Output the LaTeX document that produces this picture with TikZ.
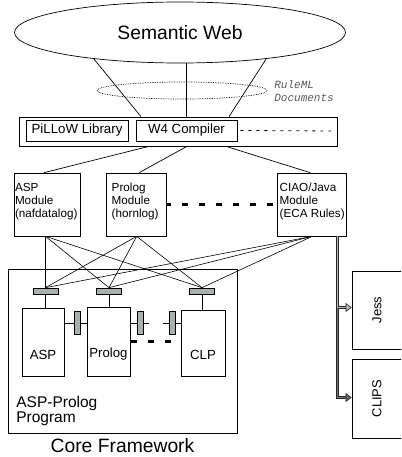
\documentclass[tikz,border=0pt]{standalone}
\usepackage{fontspec}
\setmainfont{Liberation Sans}
\setmonofont{Liberation Mono}
\usetikzlibrary{shapes.geometric,arrows.meta}
\definecolor{plugfill}{HTML}{A8B1AD}
\begin{document}
\begin{tikzpicture}[x=1pt,y=-1pt,line width=0.7pt,
  box/.style={draw,inner sep=0pt},
  plug/.style={draw,fill=plugfill,inner sep=0pt,minimum width=25pt,minimum height=6pt},
  vplug/.style={draw,fill=plugfill,inner sep=0pt,minimum width=6pt,minimum height=23pt},
  modtext/.style={anchor=north west,align=left,inner sep=0pt,font=\fontsize{11.7}{12.9}\selectfont},
  thickdash/.style={line width=3pt,dash pattern=on 6pt off 11pt},
  shaft/.style={draw=black!85,line width=0.6pt,double=#1,double distance=1.7pt},
  tip/.style={draw=black!85,line width=0.6pt,-{Triangle[width=9pt,length=6pt,fill=#1]}}]
\useasboundingbox (0,0) rectangle (401,457);
\clip (0,0) rectangle (401,457);
% semantic web and documents
\node[ellipse,draw,minimum width=331pt,minimum height=61pt,inner sep=0pt,font=\fontsize{19.3}{22}\selectfont] (web) at (180,32.5) {Semantic Web};
\node[ellipse,draw,densely dotted,minimum width=170pt,minimum height=17pt,inner sep=0pt] (docs) at (182,90.5) {};
\node[anchor=north west,align=left,inner sep=0pt,text=black!65,font=\fontsize{11}{13}\ttfamily\itshape] (docstext) at (274,80) {RuleML\\Documents};
% top layer
\node[box,minimum width=318pt,minimum height=29pt] (bar) at (178,131.5) {};
\node[box,minimum width=102pt,minimum height=21pt,font=\fontsize{13.3}{15}\selectfont] (pillow) at (77,130.5) {PiLLoW Library};
\node[box,minimum width=101pt,minimum height=21pt,font=\fontsize{13.3}{15}\selectfont] (w4) at (186.5,130.5) {W4 Compiler};
\coordinate (dotend) at (334,131);
\draw[line width=0.8pt,dash pattern=on 3pt off 5pt] ([xshift=3pt]w4.east) -- (dotend);
\draw (web.197) -- ([xshift=-37pt]bar.north);
\draw ([xshift=6pt]web.south) -- ([xshift=8pt]bar.north);
\draw (web.343) -- ([xshift=51pt]bar.north);
% modules
\node[box,minimum width=66pt,minimum height=63pt] (aspmod) at (47,204.5) {};
\node[box,minimum width=60pt,minimum height=63pt] (prolmod) at (136.7,204.5) {};
\node[box,minimum width=69pt,minimum height=63pt] (ciaomod) at (312.2,204.5) {};
\node[modtext] (asptext) at ([xshift=1pt,yshift=-10.5pt]aspmod.north west) {ASP\\Module\\(nafdatalog)};
\node[modtext] (proltext) at ([xshift=5pt,yshift=-10.5pt]prolmod.north west) {Prolog\\Module\\(hornlog)};
\node[modtext] (ciaotext) at ([xshift=2pt,yshift=-10.5pt]ciaomod.north west) {CIAO/Java\\Module\\(ECA Rules)};
\draw[thickdash,dash phase=2pt] (prolmod.east) -- (ciaomod.west);
\draw ([xshift=-29pt]bar.south) -- ([xshift=-3pt]aspmod.north);
\draw ([xshift=9pt]bar.south) -- ([xshift=2.5pt]prolmod.north);
\draw ([xshift=48pt]bar.south) -- ([xshift=-2pt]ciaomod.north);
% core framework
\node[box,minimum width=229pt,minimum height=164pt] (core) at (122.5,351) {};
\node[anchor=base,inner sep=0pt,font=\fontsize{19.3}{22}\selectfont] (coretext) at (122.5,452.5) {Core Framework};
\node[anchor=north west,align=left,inner sep=0pt,font=\fontsize{15.5}{15}\selectfont] (progtext) at (16,396) {ASP-Prolog\\Program};
\node[plug] (aspplug) at (45.5,291) {};
\node[plug] (prolplug) at (109,291) {};
\node[plug] (clpplug) at (202,291) {};
\coordinate (aspfoot) at (aspplug.north |- aspmod.south);
\coordinate (prolfoot) at (prolmod.south);
\coordinate (ciaofoot) at (ciaomod.south);
\foreach \m in {aspfoot,prolfoot,ciaofoot}
  \foreach \p in {aspplug,prolplug,clpplug}
    \draw[line width=0.6pt] (\m) -- (\p.north);
\node[box,minimum width=42pt,minimum height=68pt] (aspbox) at (43,342) {};
\node[box,minimum width=43pt,minimum height=69pt] (prolbox) at (108.5,341.5) {};
\node[box,minimum width=44pt,minimum height=66pt] (clpbox) at (203,343) {};
\draw (aspplug.south) -- (aspplug.south |- aspbox.north);
\draw (prolplug.south) -- (prolplug.south |- prolbox.north);
\draw (clpplug.south) -- (clpplug.south |- clpbox.north);
\node[anchor=base,font=\fontsize{13.2}{15}\selectfont] (asplabel) at ([yshift=16.5pt]aspbox.south) {ASP};
\node[anchor=base,font=\fontsize{13.2}{15}\selectfont] (prollabel) at ([yshift=19.3pt]prolbox.south) {Prolog};
\node[anchor=base,font=\fontsize{13.2}{15}\selectfont] (clplabel) at ([yshift=16.5pt]clpbox.south) {CLP};
% side connectors
\coordinate (prolend) at (149,323);
\coordinate (clpstart) at (163,323);
\draw ([yshift=19pt]aspbox.east) -- ([yshift=18.5pt]prolbox.west);
\draw ([yshift=18.5pt]prolbox.east) -- (prolend);
\draw (clpstart) -- ([yshift=20pt]clpbox.west);
\node[vplug] (apvplug) at (77,323) {};
\node[vplug] (prvplug) at (140,323) {};
\node[vplug] (clvplug) at (172,323) {};
\coordinate (dashstart) at (131,341);
\coordinate (dashend) at (171,341);
\draw[thickdash] (dashstart) -- (dashend);
% external engines
\node[box,rotate=90,minimum width=78pt,minimum height=50pt,font=\fontsize{13}{15}\selectfont] (jess) at (377,310) {Jess};
\node[box,rotate=90,minimum width=79pt,minimum height=50pt,font=\fontsize{13}{15}\selectfont] (clips) at (377,398.5) {CLIPS};
\coordinate (ciaodrop) at ([xshift=25.3pt]ciaomod.south);
\coordinate (jessturn) at (ciaodrop |- 0,307.5);
\coordinate (jessend) at ([xshift=-6pt,yshift=2.5pt]jess.north);
\coordinate (clipsend) at ([xshift=-6pt,yshift=1pt]clips.north);
\draw[shaft=gray!55] (ciaodrop) -- (jessturn) -- (jessend);
\draw[shaft=black!55] (jessturn) |- (clipsend);
\draw[tip=gray!55] (jessend) -- ([yshift=2.5pt]jess.north);
\draw[tip=black!60] (clipsend) -- ([yshift=1pt]clips.north);
\end{tikzpicture}
\end{document}
